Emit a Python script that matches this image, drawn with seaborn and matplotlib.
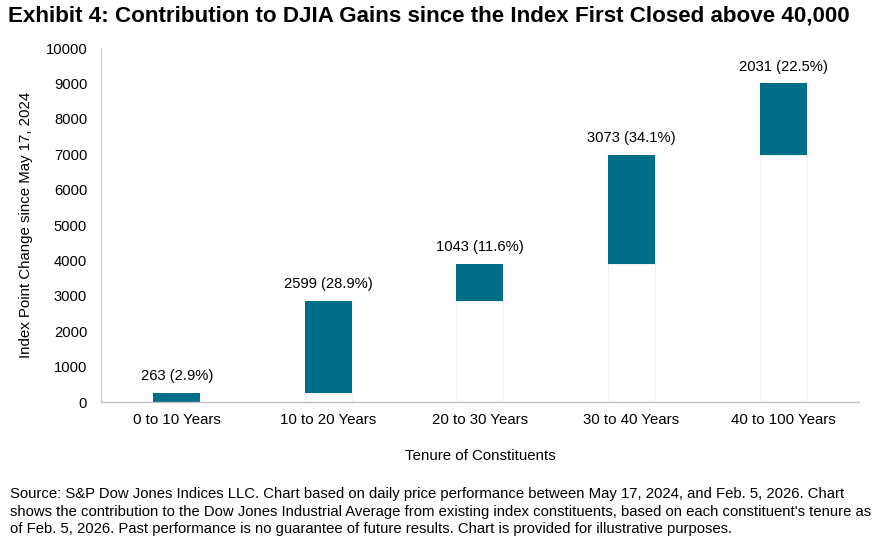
import matplotlib
matplotlib.use("Agg")
import matplotlib.pyplot as plt
import seaborn as sns
import numpy as np
import pandas as pd

categories = ["0 to 10 Years", "10 to 20 Years", "20 to 30 Years", "30 to 40 Years", "40 to 100 Years"]
contributions = [263, 2599, 1043, 3073, 2031]
percent_labels = ["2.9%", "28.9%", "11.6%", "34.1%", "22.5%"]
y_ticks = [0, 1000, 2000, 3000, 4000, 5000, 6000, 7000, 8000, 9000, 10000]

sns.set_theme(style="white")
plt.rcParams['font.family'] = ['Liberation Sans', 'DejaVu Sans']

bases = list(np.concatenate([[0], np.cumsum(contributions)[:-1]]))
df = pd.DataFrame({"cat": categories, "val": contributions, "base": bases})

fig = plt.figure(figsize=(8.79, 5.46), dpi=100)
ax = fig.add_axes([0.115, 0.2637, 0.862, 0.648])

sns.barplot(data=df, x="cat", y="base", color="white", edgecolor="#f0f0f0",
            linewidth=0.8, width=0.31, ax=ax, saturation=1)
sns.barplot(data=df, x="cat", y="val", bottom=df["base"], color="#006E87",
            width=0.31, ax=ax, saturation=1, linewidth=0)

for i, (v, b, p) in enumerate(zip(contributions, bases, percent_labels)):
    ax.annotate(f"{v} ({p})", xy=(i, b + v), xytext=(0, 7), textcoords="offset points",
                ha="center", va="bottom", fontsize=10.6, color="#000000")

ax.set_ylim(0, 10000)
ax.set_xlim(-0.5, 4.5)
ax.set_yticks(y_ticks)
ax.set_yticklabels([str(t) for t in y_ticks], fontsize=10.6)
ax.tick_params(axis="x", labelsize=10.8, length=0, pad=8, colors="#000000")
ax.tick_params(axis="y", length=0, pad=10, colors="#000000")
for s in ["top", "right"]:
    ax.spines[s].set_visible(False)
ax.spines["left"].set_color("#c8c8c8")
ax.spines["bottom"].set_color("#c0c0c0")
ax.spines["left"].set_linewidth(0.8)
ax.spines["bottom"].set_linewidth(1.0)

ax.set_xlabel("Tenure of Constituents", fontsize=10.8, labelpad=16, color="#000000")
ax.set_ylabel("Index Point Change since May 17, 2024", fontsize=10.8, labelpad=9, color="#000000")

fig.text(0.009, 0.970, "Exhibit 4: Contribution to DJIA Gains since the Index First Closed above 40,000",
         fontsize=16.1, fontweight="bold", ha="left", va="center", color="#000000")

foot = ("Source: S&P Dow Jones Indices LLC. Chart based on daily price performance between May 17, 2024, and Feb. 5, 2026. Chart\n"
        "shows the contribution to the Dow Jones Industrial Average from existing index constituents, based on each constituent's tenure as\n"
        "of Feb. 5, 2026. Past performance is no guarantee of future results. Chart is provided for illustrative purposes.")
fig.text(0.011, 0.108, foot, fontsize=10.7, ha="left", va="top", linespacing=1.33, color="#000000")

fig.savefig("out.png", dpi=100)
